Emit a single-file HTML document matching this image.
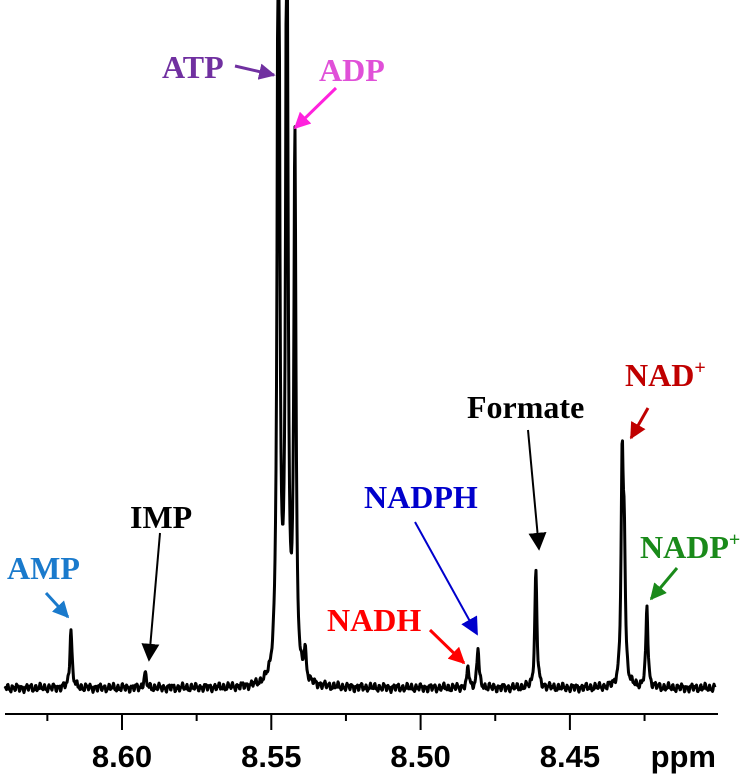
<!DOCTYPE html>
<html><head><meta charset="utf-8"><style>
html,body{margin:0;padding:0;background:#fff;}
svg{display:block;}
.lbl{font-family:"Liberation Serif",serif;font-weight:bold;font-size:32px;}
.tick{font-family:"Liberation Sans",sans-serif;font-weight:bold;font-size:31px;}
</style></head><body>
<svg id="chart" width="748" height="780" viewBox="0 0 748 780" xmlns="http://www.w3.org/2000/svg">
<defs>
<marker id="ah" viewBox="0 0 10 10" refX="9" refY="5" markerWidth="5.5" markerHeight="5.5" orient="auto" markerUnits="strokeWidth"><path d="M0,0 L10,5 L0,10 z" fill="context-stroke"/></marker>
<marker id="ah2" viewBox="0 0 10 10" refX="9" refY="5" markerWidth="9" markerHeight="9" orient="auto" markerUnits="strokeWidth"><path d="M0,0 L10,5 L0,10 z" fill="context-stroke"/></marker>
</defs>
<g id="spectrum"></g>
<g id="axis"></g>
<g id="annotations">
<text class="lbl" x="162" y="78" fill="#7030a0">ATP</text>
<line x1="235" y1="66" x2="274" y2="75" stroke="#7030a0" stroke-width="3" marker-end="url(#ah)"/>
<text class="lbl" x="319" y="81" fill="#e050d8">ADP</text>
<line x1="336" y1="88" x2="295" y2="128" stroke="#ff22dd" stroke-width="3" marker-end="url(#ah)"/>
<text class="lbl" x="7" y="579" fill="#1a7acc">AMP</text>
<line x1="46" y1="593" x2="68" y2="617" stroke="#1a7acc" stroke-width="3" marker-end="url(#ah)"/>
<text class="lbl" x="130" y="528" fill="#000">IMP</text>
<line x1="160" y1="533" x2="149" y2="660" stroke="#000" stroke-width="2" marker-end="url(#ah2)"/>
<text class="lbl" x="364" y="508" fill="#0000cc">NADPH</text>
<line x1="415" y1="522" x2="477" y2="634" stroke="#0000cc" stroke-width="2" marker-end="url(#ah2)"/>
<text class="lbl" x="327" y="631" fill="#ff0000">NADH</text>
<line x1="430" y1="630" x2="464" y2="663" stroke="#ff0000" stroke-width="3" marker-end="url(#ah)"/>
<text class="lbl" x="467" y="418" fill="#000">Formate</text>
<line x1="528" y1="430" x2="539" y2="549" stroke="#000" stroke-width="2" marker-end="url(#ah2)"/>
<text class="lbl" x="625" y="386" fill="#c00000">NAD<tspan font-size="20" dy="-12">+</tspan></text>
<line x1="648" y1="408" x2="631" y2="438" stroke="#c00000" stroke-width="3" marker-end="url(#ah)"/>
<text class="lbl" x="640" y="558" fill="#1a8a1a">NADP<tspan font-size="20" dy="-12">+</tspan></text>
<line x1="677" y1="568" x2="651" y2="599" stroke="#1a8a1a" stroke-width="3" marker-end="url(#ah)"/>
</g>
</svg>
<script>
const peakNames = ["AMP","IMP","ATP-a","ATP-b","ADP","ADP-sat","NADH","NADPH","Formate","NAD+","NAD+b","NADP+"];
const peakPpm =   [8.6171,8.5923,8.5476,8.5448,8.5421,8.5387,8.4841,8.4808,8.4614,8.4325,8.4318,8.4242];
const peakHeight = [60,15,1000,900,540,30,20,40,118,215,130,80];

const tickValues = [8.60,8.55,8.50,8.45];
const tickLabels = ["8.60","8.55","8.50","8.45"];
const minorTicks = [8.625,8.575,8.525,8.475,8.425];

const NS="http://www.w3.org/2000/svg";
const X0=122, PPM0=8.60, PXPERPPM=2986;
function xScale(p){return X0+(PPM0-p)*PXPERPPM;}
function pxToPpm(x){return PPM0-(x-X0)/PXPERPPM;}
const BASE=688;
function yScale(v){return BASE-v;}
const HW=0.00042;
function spectrumAt(p){
  let s=0;
  for(let i=0;i<peakPpm.length;i++){
    const d=(p-peakPpm[i])/HW;
    s+=peakHeight[i]/(1+d*d);
  }
  return s;
}
const spec=document.getElementById('spectrum');
let d="";
for(let x=5;x<=715;x+=0.5){
  const noise=2.2*Math.sin(x*1.37)+1.6*Math.sin(x*2.91+1)+1.1*Math.sin(x*0.53+2);
  let y=yScale(spectrumAt(pxToPpm(x)))+noise;
  if(y<-5)y=-5;
  d+=(x===5?"M":"L")+x.toFixed(1)+","+y.toFixed(1);
}
const path=document.createElementNS(NS,'path');
path.setAttribute('d',d);
path.setAttribute('fill','none');
path.setAttribute('stroke','#000');
path.setAttribute('stroke-width','3');
path.setAttribute('stroke-linejoin','round');


spec.appendChild(path);

const ax=document.getElementById('axis');
const al=document.createElementNS(NS,'line');
al.setAttribute('x1',5);al.setAttribute('x2',718);al.setAttribute('y1',714);al.setAttribute('y2',714);
al.setAttribute('stroke','#000');al.setAttribute('stroke-width','2');


ax.appendChild(al);
tickValues.forEach((v,i)=>{
  const x=xScale(v);
  const t=document.createElementNS(NS,'line');
  t.setAttribute('x1',x);t.setAttribute('x2',x);t.setAttribute('y1',714);t.setAttribute('y2',730);
  t.setAttribute('stroke','#000');t.setAttribute('stroke-width','2');
  
  
  ax.appendChild(t);
  const tx=document.createElementNS(NS,'text');
  tx.setAttribute('x',x);tx.setAttribute('y',767);tx.setAttribute('text-anchor','middle');
  tx.setAttribute('class','tick');
  tx.textContent=tickLabels[i];
  
  
  ax.appendChild(tx);
});
minorTicks.forEach(v=>{
  const x=xScale(v);
  const t=document.createElementNS(NS,'line');
  t.setAttribute('x1',x);t.setAttribute('x2',x);t.setAttribute('y1',714);t.setAttribute('y2',721);
  t.setAttribute('stroke','#000');t.setAttribute('stroke-width','2');
  
  
  ax.appendChild(t);
});
const unit=document.createElementNS(NS,'text');
unit.setAttribute('x',716);unit.setAttribute('y',767);unit.setAttribute('text-anchor','end');
unit.setAttribute('class','tick');
unit.textContent='ppm';


ax.appendChild(unit);
</script>
</body></html>
